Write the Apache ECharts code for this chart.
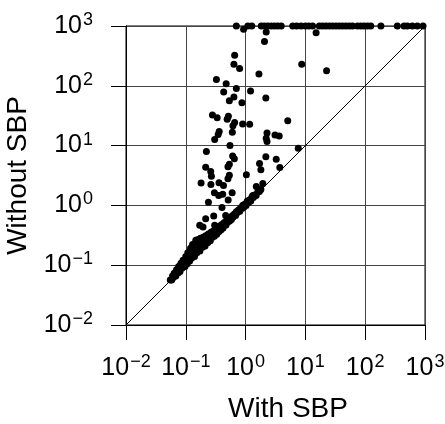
<!DOCTYPE html>
<html><head><meta charset="utf-8">
<script src="https://cdn.jsdelivr.net/npm/echarts@6/dist/echarts.min.js"></script>
<style>html,body{margin:0;padding:0;background:#fff}#c{width:445px;height:424px}</style>
</head><body><div id="c"></div>
<script>
const xAxisName = 'With SBP';
const yAxisName = 'Without SBP';
const tickExps = [-2, -1, 0, 1, 2, 3];
const timeoutY = 1000;
const timeoutX = [0.70,1.09,1.27,1.83,2.07,2.35,2.68,3.04,3.45,3.94,6.14,7.16,8.48,10.0,11.4,13.2,17.1,19.4,22.1,25.1,28.5,32.5,36.9,41.9,47.6,54.1,61.4,74.5,84.8,96.2,109,124,183,345,447,507,614,744,926];
const scatterX = [2.07,0.656,0.638,0.794,1.67,8.68,22.6,0.325,0.473,0.70,0.43,1.21,0.638,0.535,0.868,2.18,0.279,0.335,0.515,0.492,0.656,0.614,0.891,1.17,5.07,0.362,0.348,0.304,0.60,2.28,3.10,3.65,2.21,2.28,0.548,0.221,0.607,0.648,2.18,3.25,1.71,0.535,0.507,0.215,0.261,1.80,3.73,0.268,0.535,0.507,1.03,0.18,0.263,0.359,0.427,1.94,1.51,7.6,0.301,0.355,0.414,0.596,0.511,0.239,0.403,0.293,0.464,0.215,0.171,0.194,0.304,0.394,0.147,1.32,0.926,15.1,2.21];
const scatterY = [548,325,230,194,157,230,178,128,108,90.2,78.5,81.6,65.1,56.2,52.1,62.4,32.4,29.1,31.0,27.7,24.4,21.5,23.0,22.8,26.1,17.2,15.4,12.6,16.8,16.2,15.1,14.5,13.3,11.7,10.0,7.94,6.68,6.0,6.48,5.89,5.01,4.86,4.42,4.35,3.69,3.94,4.30,3.07,3.20,2.79,3.25,2.37,2.24,2.40,2.15,2.33,2.07,9.0,1.63,1.47,1.54,1.63,1.23,1.13,0.919,0.668,0.681,0.60,0.464,0.435,0.464,0.435,0.261,1.47,881,773,794];
const bandX = [0.055,0.058,0.060,0.062,0.064,0.066,0.068,0.070,0.072,0.074,0.076,0.078,0.080,0.083,0.085,0.087,0.090,0.092,0.095,0.097,0.100,0.100,0.103,0.106,0.108,0.110,0.113,0.116,0.120,0.120,0.123,0.126,0.130,0.130,0.133,0.136,0.140,0.143,0.146,0.150,0.153,0.157,0.160,0.164,0.168,0.172,0.176,0.180,0.185,0.190,0.195,0.200,0.205,0.210,0.215,0.220,0.226,0.232,0.238,0.245,0.250,0.257,0.264,0.270,0.278,0.285,0.293,0.300,0.310,0.320,0.330,0.340,0.350,0.360,0.370,0.380,0.390,0.400,0.410,0.420,0.440,0.450,0.470,0.480,0.500,0.520,0.540,0.560,0.580,0.600,0.620,0.650,0.680,0.700,0.730,0.760,0.800,0.830,0.870,0.900,0.940,0.980,1.02,1.07,1.12,1.17,1.22,1.28,1.35,1.42,1.50,1.60,1.70,1.80];
const bandY = [0.0567,0.0568,0.066,0.062,0.0736,0.0693,0.066,0.084,0.0778,0.074,0.095,0.0874,0.0784,0.108,0.0978,0.0896,0.1215,0.110,0.0998,0.0951,0.140,0.125,0.113,0.106,0.162,0.143,0.130,0.118,0.192,0.168,0.148,0.132,0.221,0.195,0.173,0.152,0.140,0.229,0.204,0.180,0.161,0.267,0.240,0.213,0.185,0.172,0.282,0.252,0.222,0.200,0.293,0.260,0.230,0.210,0.312,0.275,0.249,0.237,0.333,0.294,0.270,0.257,0.356,0.319,0.292,0.371,0.337,0.306,0.397,0.358,0.330,0.425,0.385,0.367,0.451,0.418,0.390,0.480,0.443,0.420,0.519,0.477,0.470,0.552,0.525,0.582,0.551,0.616,0.580,0.672,0.639,0.715,0.680,0.784,0.759,0.836,0.800,0.913,0.887,1.01,0.940,1.06,1.00,1.18,1.12,1.24,1.18,1.38,1.35,1.49,1.47,1.68,1.70,1.84];
const diagX = [0.01, 1000];
const diagY = [0.01, 1000];

const FONT = 'Liberation Sans';
const zip = (a, b) => a.map((v, i) => [v, b[i]]);
const expLabel = v => {
  const e = Math.round(Math.log10(v));
  if (tickExps.indexOf(e) < 0) return '';
  return '{b|10}{s|' + (e < 0 ? '\u2212' + (-e) : String(e)) + '}';
};
const rich = {
  b: {fontSize: 25, fontFamily: FONT, color: '#000', lineHeight: 30},
  s: {fontSize: 18, fontFamily: FONT, color: '#000', lineHeight: 13, verticalAlign: 'top', padding: [0, 0, 0, 1]}
};
const axisCommon = {
  type: 'log', logBase: 10,
  min: Math.pow(10, tickExps[0]), max: Math.pow(10, tickExps[tickExps.length - 1]),
  splitNumber: 5,
  axisLine: {show: true, lineStyle: {color: '#000', width: 1}},
  axisTick: {show: true, inside: false, length: 15, lineStyle: {color: '#000', width: 1}},
  minorTick: {show: false},
  splitLine: {show: true, lineStyle: {color: '#444', width: 1}},
  nameTextStyle: {fontFamily: FONT, fontSize: 28, color: '#000'}
};
const chart = echarts.init(document.getElementById('c'), null, {renderer: 'canvas'});
const dot = {color: '#000', opacity: 1};
chart.setOption({
  animation: false,
  backgroundColor: '#fff',
  grid: {left: 126, right: 20, top: 26, bottom: 99, containLabel: false, outerBoundsMode: 'none', show: true, borderColor: '#000', borderWidth: 1, backgroundColor: 'transparent'},
  xAxis: Object.assign({}, axisCommon, {
    name: xAxisName, nameLocation: 'middle', nameGap: 70,
    nameTextStyle: Object.assign({}, axisCommon.nameTextStyle, {padding: [0, 0, 0, 25]}),
    axisLabel: {formatter: expLabel, rich: rich, margin: 28}
  }),
  yAxis: Object.assign({}, axisCommon, {
    name: yAxisName, nameLocation: 'middle', nameGap: 94,
    axisLabel: {formatter: expLabel, rich: rich, margin: 33}
  }),
  series: [
    {type: 'line', data: zip(diagX, diagY), showSymbol: false, symbol: 'none', lineStyle: {color: '#000', width: 1}, z: 1, silent: true},
    {type: 'scatter', data: zip(bandX, bandY), symbolSize: 7, itemStyle: dot, z: 3, clip: false},
    {type: 'scatter', data: zip(scatterX, scatterY), symbolSize: 7, itemStyle: dot, z: 3, clip: false},
    {type: 'scatter', data: timeoutX.map(x => [x, timeoutY]), symbolSize: 7, itemStyle: dot, z: 3, clip: false}
  ]
});
</script>
</body></html>
